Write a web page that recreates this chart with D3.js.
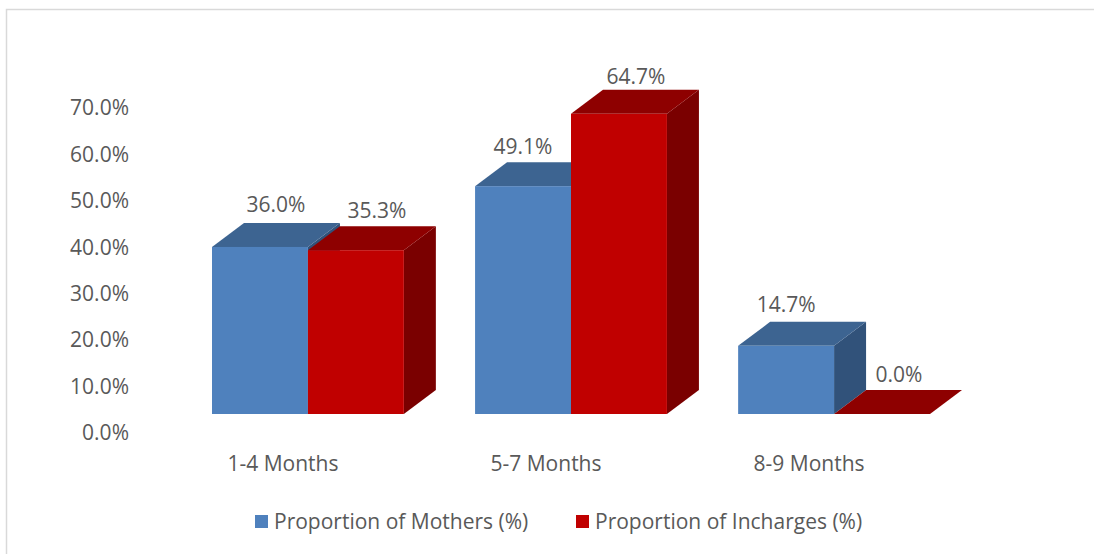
<!DOCTYPE html>
<html>
<head>
<meta charset="utf-8">
<script src="https://cdn.jsdelivr.net/npm/d3@7"></script>
<style>
  html, body { margin: 0; padding: 0; background: #fff; }
  svg { display: block; }
  text { font-family: "Open Sans", sans-serif; fill: #595959; }
</style>
</head>
<body>
<svg id="chart" width="1094" height="554"></svg>
<script>
// ---- data ----
const categories = ["1-4 Months", "5-7 Months", "8-9 Months"];
const seriesNames = ["Proportion of Mothers (%)", "Proportion of Incharges (%)"];
const mothers = [36.0, 49.1, 14.7];
const incharges = [35.3, 64.7, 0.0];
const yTicks = [0, 10, 20, 30, 40, 50, 60, 70];

// ---- layout / style ----
const W = 1094, H = 554;
const floorY = 414, topY = 414 - 70 * 4.64;
const depthX = 32, depthY = -24;
const axisShift = 19;
const faceColors = [
  { front: "#4F81BD", top: "#3D6491", side: "#31527A" },
  { front: "#C00000", top: "#8E0000", side: "#7A0000" }
];
const labelDx = [[16, 0, 0], [21, 17, 17]];
const labelDy = [[-11, -8, -10], [-8, -6, -8]];

const svg = d3.select("#chart");

// border
svg.append("rect").attr("x", 6.5).attr("y", 9.5).attr("width", 1200).attr("height", 700)
  .attr("fill", "none").attr("stroke", "#D9D9D9").attr("stroke-width", 1.5);

const y = d3.scaleLinear().domain([0, 70]).range([floorY, topY]);
const x0 = d3.scaleBand().domain(categories).range([212, 930]).paddingInner(0.2707).paddingOuter(0);
const x1 = d3.scaleBand().domain(seriesNames).range([0, x0.bandwidth()]).padding(0);

// y axis labels
const yAxis = d3.axisLeft(y).tickValues(yTicks).tickFormat(d => d3.format(".1f")(d) + "%").tickSize(0).tickPadding(0);
const gy = svg.append("g").attr("transform", `translate(129,${axisShift})`).call(yAxis);
gy.select(".domain").remove();
gy.selectAll("text").style("font-family", "'Open Sans', sans-serif").style("font-size", "21px").attr("fill", "#595959");

// category labels
svg.append("g").selectAll("text").data(categories).join("text")
  .attr("x", d => x0(d) + x0.bandwidth() / 2 - 25)
  .attr("y", 471)
  .attr("text-anchor", "middle")
  .style("font-size", "21px")
  .text(d => d);

// bars
const seriesValues = [mothers, incharges];
const gBars = svg.append("g");
categories.forEach((cat, ci) => {
  seriesNames.forEach((s, si) => {
    const v = seriesValues[si][ci];
    const xl = x0(cat) + x1(s), xr = xl + x1.bandwidth();
    const yt = y(v), yb = y(0);
    const g = gBars.append("g");
    // side
    if (v > 0) {
      g.append("path").attr("d", `M${xr},${yt}L${xr + depthX},${yt + depthY}L${xr + depthX},${yb + depthY}L${xr},${yb}Z`)
        .attr("fill", faceColors[si].side);
    }
    // top
    g.append("path").attr("d", `M${xl},${yt}L${xl + depthX},${yt + depthY}L${xr + depthX},${yt + depthY}L${xr},${yt}Z`)
      .attr("fill", faceColors[si].top);
    // front
    if (v > 0) {
      g.append("rect").attr("x", xl).attr("y", yt).attr("width", xr - xl).attr("height", yb - yt)
        .attr("fill", faceColors[si].front);
    }
  });
});

// data labels
categories.forEach((cat, ci) => {
  seriesNames.forEach((s, si) => {
    const v = seriesValues[si][ci];
    const cx = x0(cat) + x1(s) + x1.bandwidth() / 2 + labelDx[si][ci];
    svg.append("text")
      .attr("x", cx)
      .attr("y", y(v) + depthY + labelDy[si][ci])
      .attr("text-anchor", "middle")
      .style("font-size", "21px")
      .text(d3.format(".1f")(v) + "%");
  });
});

// legend
const legendX = [255, 576];
const lg = svg.append("g");
seriesNames.forEach((s, si) => {
  lg.append("rect").attr("x", legendX[si]).attr("y", 515).attr("width", 13).attr("height", 13)
    .attr("fill", faceColors[si].front);
  lg.append("text").attr("x", legendX[si] + 19).attr("y", 528.5).style("font-size", "21px").text(s);
});
</script>
</body>
</html>
